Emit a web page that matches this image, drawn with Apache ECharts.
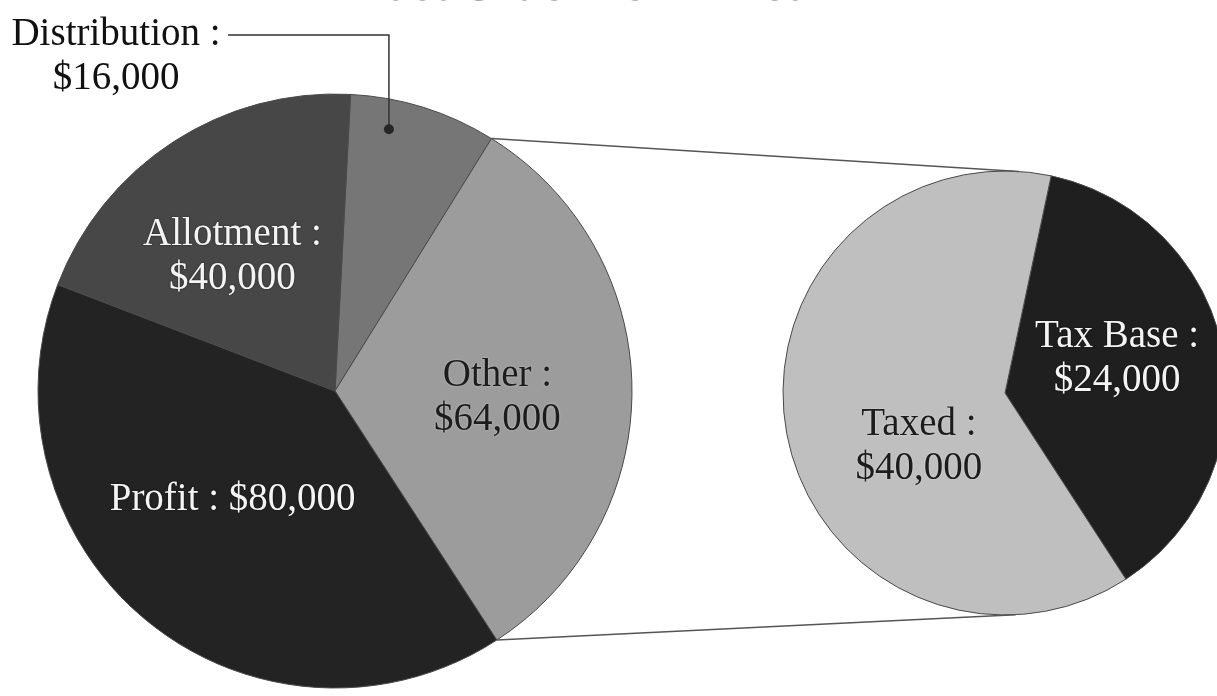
<!DOCTYPE html>
<html><head><meta charset="utf-8">
<script src="https://cdn.jsdelivr.net/npm/echarts@6/dist/echarts.min.js"></script>
<style>html,body{margin:0;padding:0;background:#fff}#c{width:1217px;height:696px}</style>
</head><body><div id="c"></div>
<script>
// ---- data ----
const titleText = 'East Side Deli - Year 1';
const mainNames = ['Distribution', 'Other', 'Profit', 'Allotment'];
const mainValues = [16000, 64000, 80000, 40000];
const subNames = ['Tax Base', 'Taxed'];
const subValues = [24000, 40000];

// ---- styles ----
const FONT = '"Liberation Serif", "DejaVu Serif", serif';
const mainColors = ['#767676', '#9c9c9c', '#232323', '#474747'];
const mainTextColors = ['#111111', '#1c1c1c', '#f4f4f4', '#f4f4f4'];
const subColors = ['#1f1f1f', '#bfbfbf'];
const subTextColors = ['#f4f4f4', '#1c1c1c'];
const money = v => '$' + v.toLocaleString('en-US');

const mainLabelMove = [null, {dx: 11, dy: 8}, {dx: -7, dy: -9}, {dx: -20, dy: -7}];
const subLabelMove = [{dx: 0, dy: -13}, {dx: 26, dy: 33}];
const distLabelPos = {x: 116, y: 57};

const MAIN = {cx: 335, cy: 391, r: 297, start: 87};
const SUB = {cx: 1005, cy: 393, r: 222, start: 78};

function labelStyle(color, dark) {
  return {
    show: true, position: 'inside', color: color, fontFamily: FONT, fontSize: 39, lineHeight: 44,
    align: 'center',
    textShadowColor: dark ? 'rgba(0,0,0,0.6)' : 'rgba(255,255,255,0.5)', textShadowBlur: 2
  };
}

const mainData = mainNames.map((n, i) => ({
  name: n, value: mainValues[i],
  itemStyle: {color: mainColors[i]},
  label: Object.assign(labelStyle(mainTextColors[i], mainTextColors[i] === '#f4f4f4'), {
    formatter: n === 'Profit' ? n + ' : ' + money(mainValues[i]) : n + ' :\n' + money(mainValues[i])
  })
}));
const subData = subNames.map((n, i) => ({
  name: n, value: subValues[i],
  itemStyle: {color: subColors[i]},
  label: Object.assign(labelStyle(subTextColors[i], subTextColors[i] === '#f4f4f4'), {
    formatter: n + ' :\n' + money(subValues[i])
  })
}));

// ---- connector geometry, derived from the same values/angles the pies use ----
function sliceAngles(cfg, values, idx) {
  const total = values.reduce((a, b) => a + b, 0);
  let a = -cfg.start * Math.PI / 180;
  for (let i = 0; i < idx; i++) a += values[i] / total * Math.PI * 2;
  return {cx: cfg.cx, cy: cfg.cy, r: cfg.r, startAngle: a, endAngle: a + values[idx] / total * Math.PI * 2};
}
const other = sliceAngles(MAIN, mainValues, 1);
const dist = sliceAngles(MAIN, mainValues, 0);
const pt = (l, a, f) => [l.cx + l.r * f * Math.cos(a), l.cy + l.r * f * Math.sin(a)];
const pTop = pt(other, other.startAngle, 1);
const pBot = pt(other, other.endAngle, 1);
function tangent(P, c, upper) {
  const dx = P[0] - c.cx, dy = P[1] - c.cy;
  const d = Math.hypot(dx, dy), th = Math.atan2(dy, dx), al = Math.acos(c.r / d);
  const t1 = [c.cx + c.r * Math.cos(th + al), c.cy + c.r * Math.sin(th + al)];
  const t2 = [c.cx + c.r * Math.cos(th - al), c.cy + c.r * Math.sin(th - al)];
  return upper ? (t1[1] < t2[1] ? t1 : t2) : (t1[1] > t2[1] ? t1 : t2);
}
const tTop = tangent(pTop, SUB, true);
const tBot = tangent(pBot, SUB, false);
const dot = pt(dist, dist.startAngle + 0.3 * (dist.endAngle - dist.startAngle), 0.9);
const leaderY = distLabelPos.y - 22;

const chart = echarts.init(document.getElementById('c'), null, {renderer: 'canvas'});
chart.setOption({
  backgroundColor: '#ffffff',
  animation: false,
  title: {
    text: titleText, left: 352, top: -43, padding: 0,
    textStyle: {fontFamily: FONT, fontSize: 57, lineHeight: 56, fontWeight: 'normal', color: '#555'}
  },
  graphic: [
    {type: 'line', silent: true, z: 10, shape: {x1: pTop[0], y1: pTop[1], x2: tTop[0], y2: tTop[1]}, style: {stroke: '#555', lineWidth: 1.5}},
    {type: 'line', silent: true, z: 10, shape: {x1: pBot[0], y1: pBot[1], x2: tBot[0], y2: tBot[1]}, style: {stroke: '#555', lineWidth: 1.5}},
    {type: 'polyline', silent: true, z: 10, shape: {points: [[dot[0], dot[1]], [dot[0], leaderY], [228, leaderY]]}, style: {stroke: '#333', lineWidth: 1.5, fill: null}},
    {type: 'circle', silent: true, z: 11, shape: {cx: dot[0], cy: dot[1], r: 5}, style: {fill: '#262626'}}
  ],
  series: [
    {
      type: 'pie', center: [MAIN.cx, MAIN.cy], radius: MAIN.r, startAngle: MAIN.start, clockwise: true,
      itemStyle: {borderColor: '#4a4a4a', borderWidth: 1},
      labelLine: {show: false},
      emphasis: {disabled: true},
      labelLayout: function (p) {
        if (p.dataIndex === 0) return {x: distLabelPos.x, y: distLabelPos.y, align: 'center', verticalAlign: 'middle'};
        return mainLabelMove[p.dataIndex];
      },
      data: mainData
    },
    {
      type: 'pie', center: [SUB.cx, SUB.cy], radius: SUB.r, startAngle: SUB.start, clockwise: true,
      itemStyle: {borderColor: '#4a4a4a', borderWidth: 1},
      labelLine: {show: false},
      emphasis: {disabled: true},
      labelLayout: function (p) { return subLabelMove[p.dataIndex]; },
      data: subData
    }
  ]
});
</script></body></html>
